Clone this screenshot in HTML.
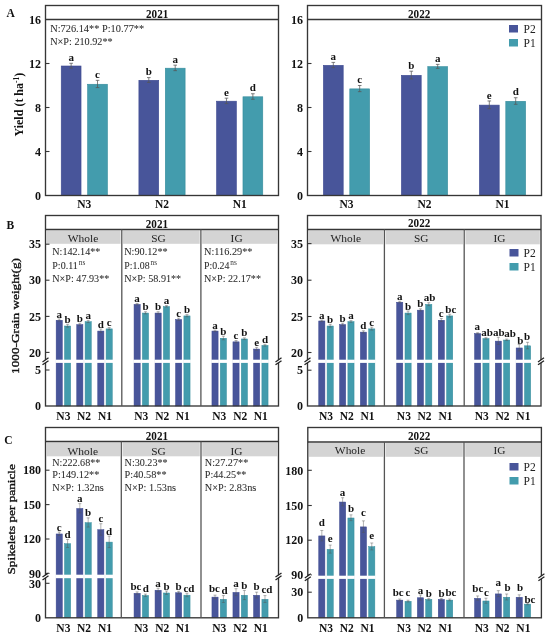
<!DOCTYPE html>
<html><head><meta charset="utf-8"><style>
html,body{margin:0;padding:0;background:#fff;}
body{width:550px;height:636px;position:relative;overflow:hidden;font-family:"Liberation Serif", serif;}
</style></head><body><div style="will-change:transform;position:absolute;left:0;top:0;width:550px;height:636px;background:#fff">
<svg width="550" height="636" viewBox="0 0 550 636" style="position:absolute;left:0;top:0;font-family:'Liberation Serif', serif">
<rect x="0.00" y="0.00" width="550.00" height="636.00" fill="#fff"/>
<text x="6.50" y="16.50" font-size="11.5" font-weight="bold" text-anchor="start" fill="#111">A</text>
<rect x="61.23" y="66.00" width="19.80" height="129.50" fill="#48559a" stroke="#3c4890" stroke-width="0.6"/>
<path d="M71.13 63.28V68.12M69.33 63.28H72.93M69.33 68.12H72.93" stroke="#555" stroke-width="0.75" fill="none"/>
<text x="71.13" y="60.88" font-size="11.0" font-weight="bold" text-anchor="middle" fill="#111">a</text>
<rect x="87.63" y="84.26" width="19.80" height="111.24" fill="#439cad" stroke="#358c9c" stroke-width="0.6"/>
<path d="M97.53 80.33V87.59M95.73 80.33H99.33M95.73 87.59H99.33" stroke="#555" stroke-width="0.75" fill="none"/>
<text x="97.53" y="77.93" font-size="11.0" font-weight="bold" text-anchor="middle" fill="#111">c</text>
<text x="84.33" y="208.00" font-size="11.5" font-weight="bold" text-anchor="middle" fill="#111">N3</text>
<rect x="138.90" y="80.30" width="19.80" height="115.20" fill="#48559a" stroke="#3c4890" stroke-width="0.6"/>
<path d="M148.80 77.58V82.42M147.00 77.58H150.60M147.00 82.42H150.60" stroke="#555" stroke-width="0.75" fill="none"/>
<text x="148.80" y="75.18" font-size="11.0" font-weight="bold" text-anchor="middle" fill="#111">b</text>
<rect x="165.30" y="68.20" width="19.80" height="127.30" fill="#439cad" stroke="#358c9c" stroke-width="0.6"/>
<path d="M175.20 65.15V70.65M173.40 65.15H177.00M173.40 70.65H177.00" stroke="#555" stroke-width="0.75" fill="none"/>
<text x="175.20" y="62.75" font-size="11.0" font-weight="bold" text-anchor="middle" fill="#111">a</text>
<text x="162.00" y="208.00" font-size="11.5" font-weight="bold" text-anchor="middle" fill="#111">N2</text>
<rect x="216.57" y="101.20" width="19.80" height="94.30" fill="#48559a" stroke="#3c4890" stroke-width="0.6"/>
<path d="M226.47 98.15V103.65M224.67 98.15H228.27M224.67 103.65H228.27" stroke="#555" stroke-width="0.75" fill="none"/>
<text x="226.47" y="95.75" font-size="11.0" font-weight="bold" text-anchor="middle" fill="#111">e</text>
<rect x="242.97" y="96.80" width="19.80" height="98.70" fill="#439cad" stroke="#358c9c" stroke-width="0.6"/>
<path d="M252.87 93.75V99.25M251.07 93.75H254.67M251.07 99.25H254.67" stroke="#555" stroke-width="0.75" fill="none"/>
<text x="252.87" y="91.35" font-size="11.0" font-weight="bold" text-anchor="middle" fill="#111">d</text>
<text x="239.67" y="208.00" font-size="11.5" font-weight="bold" text-anchor="middle" fill="#111">N1</text>
<rect x="45.5" y="5.5" width="233.0" height="190.0" fill="none" stroke="#363636" stroke-width="1.35"/>
<line x1="45.50" y1="19.50" x2="278.50" y2="19.50" stroke="#363636" stroke-width="1.35"/>
<text x="146.00" y="18.10" font-size="11.8" font-weight="bold" text-anchor="start" fill="#111" textLength="22.3" lengthAdjust="spacingAndGlyphs">2021</text>
<text x="41.00" y="199.70" font-size="12" font-weight="bold" text-anchor="end" fill="#111">0</text>
<line x1="45.50" y1="151.50" x2="49.50" y2="151.50" stroke="#363636" stroke-width="1.1"/>
<text x="41.00" y="155.70" font-size="12" font-weight="bold" text-anchor="end" fill="#111">4</text>
<line x1="45.50" y1="107.50" x2="49.50" y2="107.50" stroke="#363636" stroke-width="1.1"/>
<text x="41.00" y="111.70" font-size="12" font-weight="bold" text-anchor="end" fill="#111">8</text>
<line x1="45.50" y1="63.50" x2="49.50" y2="63.50" stroke="#363636" stroke-width="1.1"/>
<text x="41.00" y="67.70" font-size="12" font-weight="bold" text-anchor="end" fill="#111">12</text>
<text x="41.00" y="23.70" font-size="12" font-weight="bold" text-anchor="end" fill="#111">16</text>
<rect x="323.40" y="65.34" width="19.80" height="130.16" fill="#48559a" stroke="#3c4890" stroke-width="0.6"/>
<path d="M333.30 62.40V67.68M331.50 62.40H335.10M331.50 67.68H335.10" stroke="#555" stroke-width="0.75" fill="none"/>
<text x="333.30" y="60.00" font-size="11.0" font-weight="bold" text-anchor="middle" fill="#111">a</text>
<rect x="349.80" y="88.88" width="19.80" height="106.62" fill="#439cad" stroke="#358c9c" stroke-width="0.6"/>
<path d="M359.70 85.50V91.66M357.90 85.50H361.50M357.90 91.66H361.50" stroke="#555" stroke-width="0.75" fill="none"/>
<text x="359.70" y="83.10" font-size="11.0" font-weight="bold" text-anchor="middle" fill="#111">c</text>
<text x="346.50" y="208.00" font-size="11.5" font-weight="bold" text-anchor="middle" fill="#111">N3</text>
<rect x="401.40" y="75.35" width="19.80" height="120.15" fill="#48559a" stroke="#3c4890" stroke-width="0.6"/>
<path d="M411.30 71.20V78.90M409.50 71.20H413.10M409.50 78.90H413.10" stroke="#555" stroke-width="0.75" fill="none"/>
<text x="411.30" y="68.80" font-size="11.0" font-weight="bold" text-anchor="middle" fill="#111">b</text>
<rect x="427.80" y="66.66" width="19.80" height="128.84" fill="#439cad" stroke="#358c9c" stroke-width="0.6"/>
<path d="M437.70 64.38V68.34M435.90 64.38H439.50M435.90 68.34H439.50" stroke="#555" stroke-width="0.75" fill="none"/>
<text x="437.70" y="61.98" font-size="11.0" font-weight="bold" text-anchor="middle" fill="#111">a</text>
<text x="424.50" y="208.00" font-size="11.5" font-weight="bold" text-anchor="middle" fill="#111">N2</text>
<rect x="479.40" y="105.11" width="19.80" height="90.39" fill="#48559a" stroke="#3c4890" stroke-width="0.6"/>
<path d="M489.30 100.96V108.66M487.50 100.96H491.10M487.50 108.66H491.10" stroke="#555" stroke-width="0.75" fill="none"/>
<text x="489.30" y="98.56" font-size="11.0" font-weight="bold" text-anchor="middle" fill="#111">e</text>
<rect x="505.80" y="101.31" width="19.80" height="94.19" fill="#439cad" stroke="#358c9c" stroke-width="0.6"/>
<path d="M515.70 97.71V104.31M513.90 97.71H517.50M513.90 104.31H517.50" stroke="#555" stroke-width="0.75" fill="none"/>
<text x="515.70" y="95.31" font-size="11.0" font-weight="bold" text-anchor="middle" fill="#111">d</text>
<text x="502.50" y="208.00" font-size="11.5" font-weight="bold" text-anchor="middle" fill="#111">N1</text>
<rect x="307.5" y="5.5" width="234.0" height="190.0" fill="none" stroke="#363636" stroke-width="1.35"/>
<line x1="307.50" y1="19.50" x2="541.50" y2="19.50" stroke="#363636" stroke-width="1.35"/>
<text x="408.00" y="18.10" font-size="11.8" font-weight="bold" text-anchor="start" fill="#111" textLength="22.3" lengthAdjust="spacingAndGlyphs">2022</text>
<text x="303.00" y="199.70" font-size="12" font-weight="bold" text-anchor="end" fill="#111">0</text>
<line x1="307.50" y1="151.50" x2="311.50" y2="151.50" stroke="#363636" stroke-width="1.1"/>
<text x="303.00" y="155.70" font-size="12" font-weight="bold" text-anchor="end" fill="#111">4</text>
<line x1="307.50" y1="107.50" x2="311.50" y2="107.50" stroke="#363636" stroke-width="1.1"/>
<text x="303.00" y="111.70" font-size="12" font-weight="bold" text-anchor="end" fill="#111">8</text>
<line x1="307.50" y1="63.50" x2="311.50" y2="63.50" stroke="#363636" stroke-width="1.1"/>
<text x="303.00" y="67.70" font-size="12" font-weight="bold" text-anchor="end" fill="#111">12</text>
<text x="303.00" y="23.70" font-size="12" font-weight="bold" text-anchor="end" fill="#111">16</text>
<rect x="509.00" y="25.00" width="9.00" height="7.50" fill="#48559a"/>
<text x="523.50" y="33.00" font-size="11.5" font-weight="normal" text-anchor="start" fill="#222">P2</text>
<rect x="509.00" y="39.00" width="9.00" height="7.50" fill="#439cad"/>
<text x="523.50" y="47.00" font-size="11.5" font-weight="normal" text-anchor="start" fill="#222">P1</text>
<text x="50.20" y="32.20" font-size="11.3" font-weight="normal" text-anchor="start" fill="#2a2a2a" textLength="94" lengthAdjust="spacingAndGlyphs" stroke="#2a2a2a" stroke-width="0.06">N:726.14** P:10.77**</text>
<text x="50.20" y="45.20" font-size="11.3" font-weight="normal" text-anchor="start" fill="#2a2a2a" textLength="62.5" lengthAdjust="spacingAndGlyphs" stroke="#2a2a2a" stroke-width="0.06">N×P: 210.92**</text>
<text transform="translate(22.8,104.6) rotate(-90)" font-size="12" font-weight="bold" text-anchor="middle" fill="#111">Yield (t ha<tspan dy="-4" font-size="7.5">-1</tspan><tspan dy="4">)</tspan></text>
<text x="6.50" y="228.50" font-size="11.5" font-weight="bold" text-anchor="start" fill="#111">B</text>
<rect x="46.70" y="230.40" width="73.90" height="13.40" fill="#d4d4d4"/>
<rect x="123.00" y="230.40" width="76.70" height="13.40" fill="#d4d4d4"/>
<rect x="202.10" y="230.40" width="75.20" height="13.40" fill="#d4d4d4"/>
<text x="83.00" y="242.00" font-size="11.2" font-weight="normal" text-anchor="middle" fill="#222" textLength="30.5" lengthAdjust="spacingAndGlyphs">Whole</text>
<text x="158.40" y="242.00" font-size="11.2" font-weight="normal" text-anchor="middle" fill="#222" textLength="14.5" lengthAdjust="spacingAndGlyphs">SG</text>
<text x="236.60" y="242.00" font-size="11.2" font-weight="normal" text-anchor="middle" fill="#222" textLength="12" lengthAdjust="spacingAndGlyphs">IG</text>
<rect x="56.15" y="320.25" width="6.15" height="85.75" fill="#48559a" stroke="#3c4890" stroke-width="0.5"/>
<rect x="55.40" y="359.70" width="7.65" height="3.20" fill="#fff"/>
<g opacity="0.75">
<path d="M59.23 318.92V321.08M57.73 318.92H60.73M57.73 321.08H60.73" stroke="#555" stroke-width="0.6" fill="none"/>
</g>
<text x="59.23" y="317.52" font-size="11.0" font-weight="bold" text-anchor="middle" fill="#111">a</text>
<rect x="64.50" y="326.01" width="6.15" height="79.99" fill="#439cad" stroke="#358c9c" stroke-width="0.5"/>
<rect x="63.75" y="359.70" width="7.65" height="3.20" fill="#fff"/>
<g opacity="0.75">
<path d="M67.58 324.32V327.20M66.08 324.32H69.08M66.08 327.20H69.08" stroke="#555" stroke-width="0.6" fill="none"/>
</g>
<text x="67.58" y="322.92" font-size="11.0" font-weight="bold" text-anchor="middle" fill="#111">b</text>
<text x="63.40" y="419.80" font-size="11.5" font-weight="bold" text-anchor="middle" fill="#111">N3</text>
<rect x="76.75" y="324.57" width="6.15" height="81.43" fill="#48559a" stroke="#3c4890" stroke-width="0.5"/>
<rect x="76.00" y="359.70" width="7.65" height="3.20" fill="#fff"/>
<g opacity="0.75">
<path d="M79.83 323.24V325.40M78.33 323.24H81.33M78.33 325.40H81.33" stroke="#555" stroke-width="0.6" fill="none"/>
</g>
<text x="79.83" y="321.84" font-size="11.0" font-weight="bold" text-anchor="middle" fill="#111">b</text>
<rect x="85.10" y="321.69" width="6.15" height="84.31" fill="#439cad" stroke="#358c9c" stroke-width="0.5"/>
<rect x="84.35" y="359.70" width="7.65" height="3.20" fill="#fff"/>
<g opacity="0.75">
<path d="M88.17 320.36V322.52M86.67 320.36H89.67M86.67 322.52H89.67" stroke="#555" stroke-width="0.6" fill="none"/>
</g>
<text x="88.17" y="318.96" font-size="11.0" font-weight="bold" text-anchor="middle" fill="#111">a</text>
<text x="84.00" y="419.80" font-size="11.5" font-weight="bold" text-anchor="middle" fill="#111">N2</text>
<rect x="97.75" y="331.05" width="6.15" height="74.95" fill="#48559a" stroke="#3c4890" stroke-width="0.5"/>
<rect x="97.00" y="359.70" width="7.65" height="3.20" fill="#fff"/>
<g opacity="0.75">
<path d="M100.83 329.00V332.60M99.33 329.00H102.33M99.33 332.60H102.33" stroke="#555" stroke-width="0.6" fill="none"/>
</g>
<text x="100.83" y="327.60" font-size="11.0" font-weight="bold" text-anchor="middle" fill="#111">d</text>
<rect x="106.10" y="328.89" width="6.15" height="77.11" fill="#439cad" stroke="#358c9c" stroke-width="0.5"/>
<rect x="105.35" y="359.70" width="7.65" height="3.20" fill="#fff"/>
<g opacity="0.75">
<path d="M109.17 327.56V329.72M107.67 327.56H110.67M107.67 329.72H110.67" stroke="#555" stroke-width="0.6" fill="none"/>
</g>
<text x="109.17" y="326.16" font-size="11.0" font-weight="bold" text-anchor="middle" fill="#111">c</text>
<text x="105.00" y="419.80" font-size="11.5" font-weight="bold" text-anchor="middle" fill="#111">N1</text>
<rect x="134.05" y="304.41" width="6.15" height="101.59" fill="#48559a" stroke="#3c4890" stroke-width="0.5"/>
<rect x="133.30" y="359.70" width="7.65" height="3.20" fill="#fff"/>
<g opacity="0.75">
<path d="M137.12 303.44V304.88M135.62 303.44H138.62M135.62 304.88H138.62" stroke="#555" stroke-width="0.6" fill="none"/>
</g>
<text x="137.12" y="302.04" font-size="11.0" font-weight="bold" text-anchor="middle" fill="#111">a</text>
<rect x="142.40" y="313.05" width="6.15" height="92.95" fill="#439cad" stroke="#358c9c" stroke-width="0.5"/>
<rect x="141.65" y="359.70" width="7.65" height="3.20" fill="#fff"/>
<g opacity="0.75">
<path d="M145.48 311.72V313.88M143.98 311.72H146.98M143.98 313.88H146.98" stroke="#555" stroke-width="0.6" fill="none"/>
</g>
<text x="145.48" y="310.32" font-size="11.0" font-weight="bold" text-anchor="middle" fill="#111">b</text>
<text x="141.30" y="419.80" font-size="11.5" font-weight="bold" text-anchor="middle" fill="#111">N3</text>
<rect x="155.05" y="313.05" width="6.15" height="92.95" fill="#48559a" stroke="#3c4890" stroke-width="0.5"/>
<rect x="154.30" y="359.70" width="7.65" height="3.20" fill="#fff"/>
<g opacity="0.75">
<path d="M158.12 311.72V313.88M156.62 311.72H159.62M156.62 313.88H159.62" stroke="#555" stroke-width="0.6" fill="none"/>
</g>
<text x="158.12" y="310.32" font-size="11.0" font-weight="bold" text-anchor="middle" fill="#111">b</text>
<rect x="163.40" y="306.57" width="6.15" height="99.43" fill="#439cad" stroke="#358c9c" stroke-width="0.5"/>
<rect x="162.65" y="359.70" width="7.65" height="3.20" fill="#fff"/>
<g opacity="0.75">
<path d="M166.48 305.60V307.04M164.98 305.60H167.98M164.98 307.04H167.98" stroke="#555" stroke-width="0.6" fill="none"/>
</g>
<text x="166.48" y="304.20" font-size="11.0" font-weight="bold" text-anchor="middle" fill="#111">a</text>
<text x="162.30" y="419.80" font-size="11.5" font-weight="bold" text-anchor="middle" fill="#111">N2</text>
<rect x="175.55" y="319.53" width="6.15" height="86.47" fill="#48559a" stroke="#3c4890" stroke-width="0.5"/>
<rect x="174.80" y="359.70" width="7.65" height="3.20" fill="#fff"/>
<g opacity="0.75">
<path d="M178.62 318.20V320.36M177.12 318.20H180.12M177.12 320.36H180.12" stroke="#555" stroke-width="0.6" fill="none"/>
</g>
<text x="178.62" y="316.80" font-size="11.0" font-weight="bold" text-anchor="middle" fill="#111">c</text>
<rect x="183.90" y="315.93" width="6.15" height="90.07" fill="#439cad" stroke="#358c9c" stroke-width="0.5"/>
<rect x="183.15" y="359.70" width="7.65" height="3.20" fill="#fff"/>
<g opacity="0.75">
<path d="M186.98 314.60V316.76M185.48 314.60H188.48M185.48 316.76H188.48" stroke="#555" stroke-width="0.6" fill="none"/>
</g>
<text x="186.98" y="313.20" font-size="11.0" font-weight="bold" text-anchor="middle" fill="#111">b</text>
<text x="182.80" y="419.80" font-size="11.5" font-weight="bold" text-anchor="middle" fill="#111">N1</text>
<rect x="211.95" y="331.05" width="6.15" height="74.95" fill="#48559a" stroke="#3c4890" stroke-width="0.5"/>
<rect x="211.20" y="359.70" width="7.65" height="3.20" fill="#fff"/>
<g opacity="0.75">
<path d="M215.02 330.08V331.52M213.52 330.08H216.52M213.52 331.52H216.52" stroke="#555" stroke-width="0.6" fill="none"/>
</g>
<text x="215.02" y="328.68" font-size="11.0" font-weight="bold" text-anchor="middle" fill="#111">a</text>
<rect x="220.30" y="338.25" width="6.15" height="67.75" fill="#439cad" stroke="#358c9c" stroke-width="0.5"/>
<rect x="219.55" y="359.70" width="7.65" height="3.20" fill="#fff"/>
<g opacity="0.75">
<path d="M223.38 336.20V339.80M221.88 336.20H224.88M221.88 339.80H224.88" stroke="#555" stroke-width="0.6" fill="none"/>
</g>
<text x="223.38" y="334.80" font-size="11.0" font-weight="bold" text-anchor="middle" fill="#111">b</text>
<text x="219.20" y="419.80" font-size="11.5" font-weight="bold" text-anchor="middle" fill="#111">N3</text>
<rect x="232.95" y="341.85" width="6.15" height="64.15" fill="#48559a" stroke="#3c4890" stroke-width="0.5"/>
<rect x="232.20" y="359.70" width="7.65" height="3.20" fill="#fff"/>
<g opacity="0.75">
<path d="M236.02 340.52V342.68M234.52 340.52H237.52M234.52 342.68H237.52" stroke="#555" stroke-width="0.6" fill="none"/>
</g>
<text x="236.02" y="339.12" font-size="11.0" font-weight="bold" text-anchor="middle" fill="#111">c</text>
<rect x="241.30" y="338.97" width="6.15" height="67.03" fill="#439cad" stroke="#358c9c" stroke-width="0.5"/>
<rect x="240.55" y="359.70" width="7.65" height="3.20" fill="#fff"/>
<g opacity="0.75">
<path d="M244.38 337.86V339.58M242.88 337.86H245.88M242.88 339.58H245.88" stroke="#555" stroke-width="0.6" fill="none"/>
</g>
<text x="244.38" y="336.46" font-size="11.0" font-weight="bold" text-anchor="middle" fill="#111">b</text>
<text x="240.20" y="419.80" font-size="11.5" font-weight="bold" text-anchor="middle" fill="#111">N2</text>
<rect x="253.55" y="349.05" width="6.15" height="56.95" fill="#48559a" stroke="#3c4890" stroke-width="0.5"/>
<rect x="252.80" y="359.70" width="7.65" height="3.20" fill="#fff"/>
<g opacity="0.75">
<path d="M256.62 347.36V350.24M255.12 347.36H258.12M255.12 350.24H258.12" stroke="#555" stroke-width="0.6" fill="none"/>
</g>
<text x="256.62" y="345.96" font-size="11.0" font-weight="bold" text-anchor="middle" fill="#111">e</text>
<rect x="261.90" y="345.45" width="6.15" height="60.55" fill="#439cad" stroke="#358c9c" stroke-width="0.5"/>
<rect x="261.15" y="359.70" width="7.65" height="3.20" fill="#fff"/>
<g opacity="0.75">
<path d="M264.98 344.34V346.06M263.48 344.34H266.48M263.48 346.06H266.48" stroke="#555" stroke-width="0.6" fill="none"/>
</g>
<text x="264.98" y="342.94" font-size="11.0" font-weight="bold" text-anchor="middle" fill="#111">d</text>
<text x="260.80" y="419.80" font-size="11.5" font-weight="bold" text-anchor="middle" fill="#111">N1</text>
<rect x="45.5" y="215.5" width="233.0" height="190.5" fill="none" stroke="#363636" stroke-width="1.35"/>
<line x1="45.50" y1="229.50" x2="278.50" y2="229.50" stroke="#363636" stroke-width="1.35"/>
<line x1="121.80" y1="229.50" x2="121.80" y2="406.00" stroke="#555" stroke-width="1.3"/>
<line x1="200.90" y1="229.50" x2="200.90" y2="406.00" stroke="#555" stroke-width="1.3"/>
<text x="145.80" y="227.70" font-size="11.8" font-weight="bold" text-anchor="start" fill="#111" textLength="22.3" lengthAdjust="spacingAndGlyphs">2021</text>
<line x1="45.50" y1="244.20" x2="49.50" y2="244.20" stroke="#363636" stroke-width="1.1"/>
<text x="41.00" y="248.40" font-size="12" font-weight="bold" text-anchor="end" fill="#111">35</text>
<line x1="45.50" y1="280.20" x2="49.50" y2="280.20" stroke="#363636" stroke-width="1.1"/>
<text x="41.00" y="284.40" font-size="12" font-weight="bold" text-anchor="end" fill="#111">30</text>
<line x1="45.50" y1="316.40" x2="49.50" y2="316.40" stroke="#363636" stroke-width="1.1"/>
<text x="41.00" y="320.60" font-size="12" font-weight="bold" text-anchor="end" fill="#111">25</text>
<line x1="45.50" y1="352.40" x2="49.50" y2="352.40" stroke="#363636" stroke-width="1.1"/>
<text x="41.00" y="356.60" font-size="12" font-weight="bold" text-anchor="end" fill="#111">20</text>
<line x1="45.50" y1="370.00" x2="49.50" y2="370.00" stroke="#363636" stroke-width="1.1"/>
<text x="41.00" y="374.20" font-size="12" font-weight="bold" text-anchor="end" fill="#111">5</text>
<text x="41.00" y="410.20" font-size="12" font-weight="bold" text-anchor="end" fill="#111">0</text>
<polygon points="42.50,364.85 48.50,360.65 48.50,357.75 42.50,361.95" fill="#fff"/>
<line x1="42.50" y1="364.85" x2="48.50" y2="360.65" stroke="#222" stroke-width="1.25"/>
<line x1="42.50" y1="361.95" x2="48.50" y2="357.75" stroke="#222" stroke-width="1.25"/>
<polygon points="275.50,364.85 281.50,360.65 281.50,357.75 275.50,361.95" fill="#fff"/>
<line x1="275.50" y1="364.85" x2="281.50" y2="360.65" stroke="#222" stroke-width="1.25"/>
<line x1="275.50" y1="361.95" x2="281.50" y2="357.75" stroke="#222" stroke-width="1.25"/>
<text x="52.30" y="255.20" font-size="11" font-weight="normal" text-anchor="start" fill="#2a2a2a" textLength="48" lengthAdjust="spacingAndGlyphs" stroke="#2a2a2a" stroke-width="0.06">N:142.14**</text>
<text x="52.30" y="269.20" font-size="11" font-weight="normal" text-anchor="start" fill="#2a2a2a" textLength="25.5" lengthAdjust="spacingAndGlyphs" stroke="#2a2a2a" stroke-width="0.06">P:0.11</text>
<text x="78.80" y="264.90" font-size="7.3" font-weight="normal" text-anchor="start" fill="#333">ns</text>
<text x="52.30" y="282.00" font-size="11" font-weight="normal" text-anchor="start" fill="#2a2a2a" textLength="57" lengthAdjust="spacingAndGlyphs" stroke="#2a2a2a" stroke-width="0.06">N×P: 47.93**</text>
<text x="124.20" y="255.20" font-size="11" font-weight="normal" text-anchor="start" fill="#2a2a2a" textLength="43.5" lengthAdjust="spacingAndGlyphs" stroke="#2a2a2a" stroke-width="0.06">N:90.12**</text>
<text x="124.20" y="269.20" font-size="11" font-weight="normal" text-anchor="start" fill="#2a2a2a" textLength="25.5" lengthAdjust="spacingAndGlyphs" stroke="#2a2a2a" stroke-width="0.06">P:1.08</text>
<text x="150.50" y="264.90" font-size="7.3" font-weight="normal" text-anchor="start" fill="#333">ns</text>
<text x="124.20" y="282.00" font-size="11" font-weight="normal" text-anchor="start" fill="#2a2a2a" textLength="57" lengthAdjust="spacingAndGlyphs" stroke="#2a2a2a" stroke-width="0.06">N×P: 58.91**</text>
<text x="204.00" y="255.20" font-size="11" font-weight="normal" text-anchor="start" fill="#2a2a2a" textLength="48.5" lengthAdjust="spacingAndGlyphs" stroke="#2a2a2a" stroke-width="0.06">N:116.29**</text>
<text x="204.00" y="269.20" font-size="11" font-weight="normal" text-anchor="start" fill="#2a2a2a" textLength="25.5" lengthAdjust="spacingAndGlyphs" stroke="#2a2a2a" stroke-width="0.06">P:0.24</text>
<text x="230.30" y="264.90" font-size="7.3" font-weight="normal" text-anchor="start" fill="#333">ns</text>
<text x="204.00" y="282.00" font-size="11" font-weight="normal" text-anchor="start" fill="#2a2a2a" textLength="57" lengthAdjust="spacingAndGlyphs" stroke="#2a2a2a" stroke-width="0.06">N×P: 22.17**</text>
<rect x="308.70" y="230.40" width="74.50" height="13.90" fill="#d4d4d4"/>
<rect x="385.60" y="230.40" width="77.40" height="13.90" fill="#d4d4d4"/>
<rect x="465.40" y="230.40" width="74.40" height="13.90" fill="#d4d4d4"/>
<text x="345.80" y="242.20" font-size="11.2" font-weight="normal" text-anchor="middle" fill="#222" textLength="30.5" lengthAdjust="spacingAndGlyphs">Whole</text>
<text x="421.20" y="242.20" font-size="11.2" font-weight="normal" text-anchor="middle" fill="#222" textLength="14.5" lengthAdjust="spacingAndGlyphs">SG</text>
<text x="499.50" y="242.20" font-size="11.2" font-weight="normal" text-anchor="middle" fill="#222" textLength="12" lengthAdjust="spacingAndGlyphs">IG</text>
<rect x="318.75" y="320.97" width="6.15" height="85.03" fill="#48559a" stroke="#3c4890" stroke-width="0.5"/>
<rect x="318.00" y="359.70" width="7.65" height="3.20" fill="#fff"/>
<g opacity="0.75">
<path d="M321.82 320.00V321.44M320.32 320.00H323.32M320.32 321.44H323.32" stroke="#555" stroke-width="0.6" fill="none"/>
</g>
<text x="321.82" y="318.60" font-size="11.0" font-weight="bold" text-anchor="middle" fill="#111">a</text>
<rect x="327.10" y="326.01" width="6.15" height="79.99" fill="#439cad" stroke="#358c9c" stroke-width="0.5"/>
<rect x="326.35" y="359.70" width="7.65" height="3.20" fill="#fff"/>
<g opacity="0.75">
<path d="M330.18 324.32V327.20M328.68 324.32H331.68M328.68 327.20H331.68" stroke="#555" stroke-width="0.6" fill="none"/>
</g>
<text x="330.18" y="322.92" font-size="11.0" font-weight="bold" text-anchor="middle" fill="#111">b</text>
<text x="326.00" y="419.80" font-size="11.5" font-weight="bold" text-anchor="middle" fill="#111">N3</text>
<rect x="339.55" y="324.57" width="6.15" height="81.43" fill="#48559a" stroke="#3c4890" stroke-width="0.5"/>
<rect x="338.80" y="359.70" width="7.65" height="3.20" fill="#fff"/>
<g opacity="0.75">
<path d="M342.62 323.24V325.40M341.12 323.24H344.12M341.12 325.40H344.12" stroke="#555" stroke-width="0.6" fill="none"/>
</g>
<text x="342.62" y="321.84" font-size="11.0" font-weight="bold" text-anchor="middle" fill="#111">b</text>
<rect x="347.90" y="321.69" width="6.15" height="84.31" fill="#439cad" stroke="#358c9c" stroke-width="0.5"/>
<rect x="347.15" y="359.70" width="7.65" height="3.20" fill="#fff"/>
<g opacity="0.75">
<path d="M350.98 320.58V322.30M349.48 320.58H352.48M349.48 322.30H352.48" stroke="#555" stroke-width="0.6" fill="none"/>
</g>
<text x="350.98" y="319.18" font-size="11.0" font-weight="bold" text-anchor="middle" fill="#111">a</text>
<text x="346.80" y="419.80" font-size="11.5" font-weight="bold" text-anchor="middle" fill="#111">N2</text>
<rect x="360.35" y="332.13" width="6.15" height="73.87" fill="#48559a" stroke="#3c4890" stroke-width="0.5"/>
<rect x="359.60" y="359.70" width="7.65" height="3.20" fill="#fff"/>
<g opacity="0.75">
<path d="M363.43 330.80V332.96M361.93 330.80H364.93M361.93 332.96H364.93" stroke="#555" stroke-width="0.6" fill="none"/>
</g>
<text x="363.43" y="329.40" font-size="11.0" font-weight="bold" text-anchor="middle" fill="#111">d</text>
<rect x="368.70" y="328.89" width="6.15" height="77.11" fill="#439cad" stroke="#358c9c" stroke-width="0.5"/>
<rect x="367.95" y="359.70" width="7.65" height="3.20" fill="#fff"/>
<g opacity="0.75">
<path d="M371.78 327.20V330.08M370.28 327.20H373.28M370.28 330.08H373.28" stroke="#555" stroke-width="0.6" fill="none"/>
</g>
<text x="371.78" y="325.80" font-size="11.0" font-weight="bold" text-anchor="middle" fill="#111">c</text>
<text x="367.60" y="419.80" font-size="11.5" font-weight="bold" text-anchor="middle" fill="#111">N1</text>
<rect x="396.65" y="302.25" width="6.15" height="103.75" fill="#48559a" stroke="#3c4890" stroke-width="0.5"/>
<rect x="395.90" y="359.70" width="7.65" height="3.20" fill="#fff"/>
<g opacity="0.75">
<path d="M399.72 301.28V302.72M398.22 301.28H401.22M398.22 302.72H401.22" stroke="#555" stroke-width="0.6" fill="none"/>
</g>
<text x="399.72" y="299.88" font-size="11.0" font-weight="bold" text-anchor="middle" fill="#111">a</text>
<rect x="405.00" y="313.05" width="6.15" height="92.95" fill="#439cad" stroke="#358c9c" stroke-width="0.5"/>
<rect x="404.25" y="359.70" width="7.65" height="3.20" fill="#fff"/>
<g opacity="0.75">
<path d="M408.07 311.00V314.60M406.57 311.00H409.57M406.57 314.60H409.57" stroke="#555" stroke-width="0.6" fill="none"/>
</g>
<text x="408.07" y="309.60" font-size="11.0" font-weight="bold" text-anchor="middle" fill="#111">b</text>
<text x="403.90" y="419.80" font-size="11.5" font-weight="bold" text-anchor="middle" fill="#111">N3</text>
<rect x="417.35" y="310.17" width="6.15" height="95.83" fill="#48559a" stroke="#3c4890" stroke-width="0.5"/>
<rect x="416.60" y="359.70" width="7.65" height="3.20" fill="#fff"/>
<g opacity="0.75">
<path d="M420.43 308.84V311.00M418.93 308.84H421.93M418.93 311.00H421.93" stroke="#555" stroke-width="0.6" fill="none"/>
</g>
<text x="420.43" y="307.44" font-size="11.0" font-weight="bold" text-anchor="middle" fill="#111">b</text>
<rect x="425.70" y="304.41" width="6.15" height="101.59" fill="#439cad" stroke="#358c9c" stroke-width="0.5"/>
<rect x="424.95" y="359.70" width="7.65" height="3.20" fill="#fff"/>
<g opacity="0.75">
<path d="M428.78 302.72V305.60M427.28 302.72H430.28M427.28 305.60H430.28" stroke="#555" stroke-width="0.6" fill="none"/>
</g>
<text x="429.48" y="301.32" font-size="11.0" font-weight="bold" text-anchor="middle" fill="#111">ab</text>
<text x="424.60" y="419.80" font-size="11.5" font-weight="bold" text-anchor="middle" fill="#111">N2</text>
<rect x="438.25" y="320.25" width="6.15" height="85.75" fill="#48559a" stroke="#3c4890" stroke-width="0.5"/>
<rect x="437.50" y="359.70" width="7.65" height="3.20" fill="#fff"/>
<g opacity="0.75">
<path d="M441.32 318.56V321.44M439.82 318.56H442.82M439.82 321.44H442.82" stroke="#555" stroke-width="0.6" fill="none"/>
</g>
<text x="441.32" y="317.16" font-size="11.0" font-weight="bold" text-anchor="middle" fill="#111">c</text>
<rect x="446.60" y="315.93" width="6.15" height="90.07" fill="#439cad" stroke="#358c9c" stroke-width="0.5"/>
<rect x="445.85" y="359.70" width="7.65" height="3.20" fill="#fff"/>
<g opacity="0.75">
<path d="M449.68 314.24V317.12M448.18 314.24H451.18M448.18 317.12H451.18" stroke="#555" stroke-width="0.6" fill="none"/>
</g>
<text x="450.78" y="312.84" font-size="11.0" font-weight="bold" text-anchor="middle" fill="#111">bc</text>
<text x="445.50" y="419.80" font-size="11.5" font-weight="bold" text-anchor="middle" fill="#111">N1</text>
<rect x="474.55" y="333.57" width="6.15" height="72.43" fill="#48559a" stroke="#3c4890" stroke-width="0.5"/>
<rect x="473.80" y="359.70" width="7.65" height="3.20" fill="#fff"/>
<g opacity="0.75">
<path d="M477.62 332.74V333.90M476.12 332.74H479.12M476.12 333.90H479.12" stroke="#555" stroke-width="0.6" fill="none"/>
</g>
<text x="477.23" y="329.50" font-size="11.0" font-weight="bold" text-anchor="middle" fill="#111">a</text>
<rect x="482.90" y="338.61" width="6.15" height="67.39" fill="#439cad" stroke="#358c9c" stroke-width="0.5"/>
<rect x="482.15" y="359.70" width="7.65" height="3.20" fill="#fff"/>
<g opacity="0.75">
<path d="M485.98 337.64V339.08M484.48 337.64H487.48M484.48 339.08H487.48" stroke="#555" stroke-width="0.6" fill="none"/>
</g>
<text x="487.18" y="336.30" font-size="11.0" font-weight="bold" text-anchor="middle" fill="#111">ab</text>
<text x="481.80" y="419.80" font-size="11.5" font-weight="bold" text-anchor="middle" fill="#111">N3</text>
<rect x="495.25" y="341.13" width="6.15" height="64.87" fill="#48559a" stroke="#3c4890" stroke-width="0.5"/>
<rect x="494.50" y="359.70" width="7.65" height="3.20" fill="#fff"/>
<g opacity="0.75">
<path d="M498.32 337.28V344.48M496.82 337.28H499.82M496.82 344.48H499.82" stroke="#555" stroke-width="0.6" fill="none"/>
</g>
<text x="498.82" y="336.30" font-size="11.0" font-weight="bold" text-anchor="middle" fill="#111">ab</text>
<rect x="503.60" y="340.05" width="6.15" height="65.95" fill="#439cad" stroke="#358c9c" stroke-width="0.5"/>
<rect x="502.85" y="359.70" width="7.65" height="3.20" fill="#fff"/>
<g opacity="0.75">
<path d="M506.68 339.08V340.52M505.18 339.08H508.18M505.18 340.52H508.18" stroke="#555" stroke-width="0.6" fill="none"/>
</g>
<text x="510.07" y="337.20" font-size="11.0" font-weight="bold" text-anchor="middle" fill="#111">ab</text>
<text x="502.50" y="419.80" font-size="11.5" font-weight="bold" text-anchor="middle" fill="#111">N2</text>
<rect x="516.15" y="347.97" width="6.15" height="58.03" fill="#48559a" stroke="#3c4890" stroke-width="0.5"/>
<rect x="515.40" y="359.70" width="7.65" height="3.20" fill="#fff"/>
<g opacity="0.75">
<path d="M519.23 344.48V350.96M517.73 344.48H520.73M517.73 350.96H520.73" stroke="#555" stroke-width="0.6" fill="none"/>
</g>
<text x="520.33" y="344.00" font-size="11.0" font-weight="bold" text-anchor="middle" fill="#111">b</text>
<rect x="524.50" y="345.81" width="6.15" height="60.19" fill="#439cad" stroke="#358c9c" stroke-width="0.5"/>
<rect x="523.75" y="359.70" width="7.65" height="3.20" fill="#fff"/>
<g opacity="0.75">
<path d="M527.57 342.32V348.80M526.07 342.32H529.07M526.07 348.80H529.07" stroke="#555" stroke-width="0.6" fill="none"/>
</g>
<text x="527.17" y="340.40" font-size="11.0" font-weight="bold" text-anchor="middle" fill="#111">b</text>
<text x="523.40" y="419.80" font-size="11.5" font-weight="bold" text-anchor="middle" fill="#111">N1</text>
<rect x="307.5" y="215.5" width="233.5" height="190.5" fill="none" stroke="#363636" stroke-width="1.35"/>
<line x1="307.50" y1="229.50" x2="541.00" y2="229.50" stroke="#363636" stroke-width="1.35"/>
<line x1="384.40" y1="229.50" x2="384.40" y2="406.00" stroke="#555" stroke-width="1.3"/>
<line x1="464.20" y1="229.50" x2="464.20" y2="406.00" stroke="#555" stroke-width="1.3"/>
<text x="408.00" y="227.30" font-size="11.8" font-weight="bold" text-anchor="start" fill="#111" textLength="22.3" lengthAdjust="spacingAndGlyphs">2022</text>
<line x1="307.50" y1="243.60" x2="311.50" y2="243.60" stroke="#363636" stroke-width="1.1"/>
<text x="303.00" y="247.80" font-size="12" font-weight="bold" text-anchor="end" fill="#111">35</text>
<line x1="307.50" y1="280.20" x2="311.50" y2="280.20" stroke="#363636" stroke-width="1.1"/>
<text x="303.00" y="284.40" font-size="12" font-weight="bold" text-anchor="end" fill="#111">30</text>
<line x1="307.50" y1="316.50" x2="311.50" y2="316.50" stroke="#363636" stroke-width="1.1"/>
<text x="303.00" y="320.70" font-size="12" font-weight="bold" text-anchor="end" fill="#111">25</text>
<line x1="307.50" y1="352.50" x2="311.50" y2="352.50" stroke="#363636" stroke-width="1.1"/>
<text x="303.00" y="356.70" font-size="12" font-weight="bold" text-anchor="end" fill="#111">20</text>
<line x1="307.50" y1="370.20" x2="311.50" y2="370.20" stroke="#363636" stroke-width="1.1"/>
<text x="303.00" y="374.40" font-size="12" font-weight="bold" text-anchor="end" fill="#111">5</text>
<text x="303.00" y="410.20" font-size="12" font-weight="bold" text-anchor="end" fill="#111">0</text>
<polygon points="304.50,364.85 310.50,360.65 310.50,357.75 304.50,361.95" fill="#fff"/>
<line x1="304.50" y1="364.85" x2="310.50" y2="360.65" stroke="#222" stroke-width="1.25"/>
<line x1="304.50" y1="361.95" x2="310.50" y2="357.75" stroke="#222" stroke-width="1.25"/>
<polygon points="538.00,364.85 544.00,360.65 544.00,357.75 538.00,361.95" fill="#fff"/>
<line x1="538.00" y1="364.85" x2="544.00" y2="360.65" stroke="#222" stroke-width="1.25"/>
<line x1="538.00" y1="361.95" x2="544.00" y2="357.75" stroke="#222" stroke-width="1.25"/>
<rect x="509.50" y="249.00" width="9.00" height="7.50" fill="#48559a"/>
<text x="523.50" y="257.00" font-size="11.5" font-weight="normal" text-anchor="start" fill="#222">P2</text>
<rect x="509.50" y="263.00" width="9.00" height="7.50" fill="#439cad"/>
<text x="523.50" y="271.00" font-size="11.5" font-weight="normal" text-anchor="start" fill="#222">P1</text>
<text x="4.20" y="443.80" font-size="11.5" font-weight="bold" text-anchor="start" fill="#111">C</text>
<rect x="46.70" y="442.40" width="73.40" height="13.90" fill="#d4d4d4"/>
<rect x="122.50" y="442.40" width="77.30" height="13.90" fill="#d4d4d4"/>
<rect x="202.20" y="442.40" width="75.10" height="13.90" fill="#d4d4d4"/>
<text x="82.80" y="454.80" font-size="11.2" font-weight="normal" text-anchor="middle" fill="#222" textLength="30.5" lengthAdjust="spacingAndGlyphs">Whole</text>
<text x="158.50" y="454.80" font-size="11.2" font-weight="normal" text-anchor="middle" fill="#222" textLength="14.5" lengthAdjust="spacingAndGlyphs">SG</text>
<text x="236.50" y="454.80" font-size="11.2" font-weight="normal" text-anchor="middle" fill="#222" textLength="12" lengthAdjust="spacingAndGlyphs">IG</text>
<rect x="56.15" y="533.96" width="6.15" height="83.84" fill="#48559a" stroke="#3c4890" stroke-width="0.5"/>
<rect x="55.40" y="574.70" width="7.65" height="3.50" fill="#fff"/>
<g opacity="0.75">
<path d="M59.23 531.99V535.43M57.73 531.99H60.73M57.73 535.43H60.73" stroke="#555" stroke-width="0.6" fill="none"/>
</g>
<text x="59.23" y="530.59" font-size="11.0" font-weight="bold" text-anchor="middle" fill="#111">c</text>
<rect x="64.50" y="543.71" width="6.15" height="74.09" fill="#439cad" stroke="#358c9c" stroke-width="0.5"/>
<rect x="63.75" y="574.70" width="7.65" height="3.50" fill="#fff"/>
<g opacity="0.75">
<path d="M67.58 539.45V547.48M66.08 539.45H69.08M66.08 547.48H69.08" stroke="#555" stroke-width="0.6" fill="none"/>
</g>
<text x="67.58" y="538.05" font-size="11.0" font-weight="bold" text-anchor="middle" fill="#111">d</text>
<text x="63.40" y="631.60" font-size="11.5" font-weight="bold" text-anchor="middle" fill="#111">N3</text>
<rect x="76.75" y="508.50" width="6.15" height="109.30" fill="#48559a" stroke="#3c4890" stroke-width="0.5"/>
<rect x="76.00" y="574.70" width="7.65" height="3.50" fill="#fff"/>
<g opacity="0.75">
<path d="M79.83 503.66V512.84M78.33 503.66H81.33M78.33 512.84H81.33" stroke="#555" stroke-width="0.6" fill="none"/>
</g>
<text x="79.83" y="502.26" font-size="11.0" font-weight="bold" text-anchor="middle" fill="#111">a</text>
<rect x="85.10" y="522.72" width="6.15" height="95.08" fill="#439cad" stroke="#358c9c" stroke-width="0.5"/>
<rect x="84.35" y="574.70" width="7.65" height="3.50" fill="#fff"/>
<g opacity="0.75">
<path d="M88.17 517.89V527.06M86.67 517.89H89.67M86.67 527.06H89.67" stroke="#555" stroke-width="0.6" fill="none"/>
</g>
<text x="88.17" y="516.49" font-size="11.0" font-weight="bold" text-anchor="middle" fill="#111">b</text>
<text x="84.00" y="631.60" font-size="11.5" font-weight="bold" text-anchor="middle" fill="#111">N2</text>
<rect x="97.75" y="529.72" width="6.15" height="88.08" fill="#48559a" stroke="#3c4890" stroke-width="0.5"/>
<rect x="97.00" y="574.70" width="7.65" height="3.50" fill="#fff"/>
<g opacity="0.75">
<path d="M100.83 523.73V535.20M99.33 523.73H102.33M99.33 535.20H102.33" stroke="#555" stroke-width="0.6" fill="none"/>
</g>
<text x="100.83" y="522.33" font-size="11.0" font-weight="bold" text-anchor="middle" fill="#111">c</text>
<rect x="106.10" y="542.11" width="6.15" height="75.69" fill="#439cad" stroke="#358c9c" stroke-width="0.5"/>
<rect x="105.35" y="574.70" width="7.65" height="3.50" fill="#fff"/>
<g opacity="0.75">
<path d="M109.17 536.12V547.59M107.67 536.12H110.67M107.67 547.59H110.67" stroke="#555" stroke-width="0.6" fill="none"/>
</g>
<text x="109.17" y="534.72" font-size="11.0" font-weight="bold" text-anchor="middle" fill="#111">d</text>
<text x="105.00" y="631.60" font-size="11.5" font-weight="bold" text-anchor="middle" fill="#111">N1</text>
<rect x="134.05" y="593.32" width="6.15" height="24.48" fill="#48559a" stroke="#3c4890" stroke-width="0.5"/>
<g opacity="0.75">
<path d="M137.12 591.92V594.22M135.62 591.92H138.62M135.62 594.22H138.62" stroke="#555" stroke-width="0.6" fill="none"/>
</g>
<text x="135.93" y="589.60" font-size="11.0" font-weight="bold" text-anchor="middle" fill="#111">bc</text>
<rect x="142.40" y="595.51" width="6.15" height="22.29" fill="#439cad" stroke="#358c9c" stroke-width="0.5"/>
<g opacity="0.75">
<path d="M145.48 594.11V596.41M143.98 594.11H146.98M143.98 596.41H146.98" stroke="#555" stroke-width="0.6" fill="none"/>
</g>
<text x="145.78" y="591.50" font-size="11.0" font-weight="bold" text-anchor="middle" fill="#111">d</text>
<text x="141.30" y="631.60" font-size="11.5" font-weight="bold" text-anchor="middle" fill="#111">N3</text>
<rect x="155.05" y="590.22" width="6.15" height="27.58" fill="#48559a" stroke="#3c4890" stroke-width="0.5"/>
<g opacity="0.75">
<path d="M158.12 588.24V591.69M156.62 588.24H159.62M156.62 591.69H159.62" stroke="#555" stroke-width="0.6" fill="none"/>
</g>
<text x="158.12" y="586.84" font-size="11.0" font-weight="bold" text-anchor="middle" fill="#111">a</text>
<rect x="163.40" y="592.98" width="6.15" height="24.82" fill="#439cad" stroke="#358c9c" stroke-width="0.5"/>
<g opacity="0.75">
<path d="M166.48 591.00V594.45M164.98 591.00H167.98M164.98 594.45H167.98" stroke="#555" stroke-width="0.6" fill="none"/>
</g>
<text x="166.48" y="589.60" font-size="11.0" font-weight="bold" text-anchor="middle" fill="#111">b</text>
<text x="162.30" y="631.60" font-size="11.5" font-weight="bold" text-anchor="middle" fill="#111">N2</text>
<rect x="175.55" y="592.75" width="6.15" height="25.05" fill="#48559a" stroke="#3c4890" stroke-width="0.5"/>
<g opacity="0.75">
<path d="M178.62 591.35V593.65M177.12 591.35H180.12M177.12 593.65H180.12" stroke="#555" stroke-width="0.6" fill="none"/>
</g>
<text x="178.62" y="589.95" font-size="11.0" font-weight="bold" text-anchor="middle" fill="#111">b</text>
<rect x="183.90" y="595.16" width="6.15" height="22.63" fill="#439cad" stroke="#358c9c" stroke-width="0.5"/>
<g opacity="0.75">
<path d="M186.98 593.19V596.64M185.48 593.19H188.48M185.48 596.64H188.48" stroke="#555" stroke-width="0.6" fill="none"/>
</g>
<text x="188.88" y="591.79" font-size="11.0" font-weight="bold" text-anchor="middle" fill="#111">cd</text>
<text x="182.80" y="631.60" font-size="11.5" font-weight="bold" text-anchor="middle" fill="#111">N1</text>
<rect x="211.95" y="597.12" width="6.15" height="20.68" fill="#48559a" stroke="#3c4890" stroke-width="0.5"/>
<g opacity="0.75">
<path d="M215.02 595.14V598.60M213.52 595.14H216.52M213.52 598.60H216.52" stroke="#555" stroke-width="0.6" fill="none"/>
</g>
<text x="214.42" y="592.40" font-size="11.0" font-weight="bold" text-anchor="middle" fill="#111">bc</text>
<rect x="220.30" y="599.30" width="6.15" height="18.50" fill="#439cad" stroke="#358c9c" stroke-width="0.5"/>
<g opacity="0.75">
<path d="M223.38 595.60V602.50M221.88 595.60H224.88M221.88 602.50H224.88" stroke="#555" stroke-width="0.6" fill="none"/>
</g>
<text x="224.68" y="594.20" font-size="11.0" font-weight="bold" text-anchor="middle" fill="#111">d</text>
<text x="219.20" y="631.60" font-size="11.5" font-weight="bold" text-anchor="middle" fill="#111">N3</text>
<rect x="232.95" y="592.40" width="6.15" height="25.39" fill="#48559a" stroke="#3c4890" stroke-width="0.5"/>
<g opacity="0.75">
<path d="M236.02 588.70V595.61M234.52 588.70H237.52M234.52 595.61H237.52" stroke="#555" stroke-width="0.6" fill="none"/>
</g>
<text x="236.02" y="587.30" font-size="11.0" font-weight="bold" text-anchor="middle" fill="#111">a</text>
<rect x="241.30" y="595.28" width="6.15" height="22.52" fill="#439cad" stroke="#358c9c" stroke-width="0.5"/>
<g opacity="0.75">
<path d="M244.38 590.43V599.63M242.88 590.43H245.88M242.88 599.63H245.88" stroke="#555" stroke-width="0.6" fill="none"/>
</g>
<text x="244.38" y="589.03" font-size="11.0" font-weight="bold" text-anchor="middle" fill="#111">b</text>
<text x="240.20" y="631.60" font-size="11.5" font-weight="bold" text-anchor="middle" fill="#111">N2</text>
<rect x="253.55" y="595.28" width="6.15" height="22.52" fill="#48559a" stroke="#3c4890" stroke-width="0.5"/>
<g opacity="0.75">
<path d="M256.62 592.15V597.90M255.12 592.15H258.12M255.12 597.90H258.12" stroke="#555" stroke-width="0.6" fill="none"/>
</g>
<text x="256.62" y="590.00" font-size="11.0" font-weight="bold" text-anchor="middle" fill="#111">b</text>
<rect x="261.90" y="599.30" width="6.15" height="18.50" fill="#439cad" stroke="#358c9c" stroke-width="0.5"/>
<g opacity="0.75">
<path d="M264.98 595.60V602.50M263.48 595.60H266.48M263.48 602.50H266.48" stroke="#555" stroke-width="0.6" fill="none"/>
</g>
<text x="266.88" y="593.20" font-size="11.0" font-weight="bold" text-anchor="middle" fill="#111">cd</text>
<text x="260.80" y="631.60" font-size="11.5" font-weight="bold" text-anchor="middle" fill="#111">N1</text>
<rect x="45.5" y="427.5" width="233.0" height="190.29999999999995" fill="none" stroke="#363636" stroke-width="1.35"/>
<line x1="45.50" y1="441.50" x2="278.50" y2="441.50" stroke="#363636" stroke-width="1.35"/>
<line x1="121.30" y1="441.50" x2="121.30" y2="617.80" stroke="#555" stroke-width="1.3"/>
<line x1="201.00" y1="441.50" x2="201.00" y2="617.80" stroke="#555" stroke-width="1.3"/>
<text x="145.80" y="439.70" font-size="11.8" font-weight="bold" text-anchor="start" fill="#111" textLength="22.3" lengthAdjust="spacingAndGlyphs">2021</text>
<line x1="45.50" y1="470.20" x2="49.50" y2="470.20" stroke="#363636" stroke-width="1.1"/>
<text x="41.00" y="474.40" font-size="12" font-weight="bold" text-anchor="end" fill="#111">180</text>
<line x1="45.50" y1="504.60" x2="49.50" y2="504.60" stroke="#363636" stroke-width="1.1"/>
<text x="41.00" y="508.80" font-size="12" font-weight="bold" text-anchor="end" fill="#111">150</text>
<line x1="45.50" y1="539.00" x2="49.50" y2="539.00" stroke="#363636" stroke-width="1.1"/>
<text x="41.00" y="543.20" font-size="12" font-weight="bold" text-anchor="end" fill="#111">120</text>
<line x1="45.50" y1="573.40" x2="49.50" y2="573.40" stroke="#363636" stroke-width="1.1"/>
<text x="41.00" y="577.60" font-size="12" font-weight="bold" text-anchor="end" fill="#111">90</text>
<line x1="45.50" y1="583.30" x2="49.50" y2="583.30" stroke="#363636" stroke-width="1.1"/>
<text x="41.00" y="587.50" font-size="12" font-weight="bold" text-anchor="end" fill="#111">30</text>
<text x="41.00" y="622.00" font-size="12" font-weight="bold" text-anchor="end" fill="#111">0</text>
<polygon points="42.50,580.00 48.50,575.80 48.50,572.90 42.50,577.10" fill="#fff"/>
<line x1="42.50" y1="580.00" x2="48.50" y2="575.80" stroke="#222" stroke-width="1.25"/>
<line x1="42.50" y1="577.10" x2="48.50" y2="572.90" stroke="#222" stroke-width="1.25"/>
<polygon points="275.50,580.00 281.50,575.80 281.50,572.90 275.50,577.10" fill="#fff"/>
<line x1="275.50" y1="580.00" x2="281.50" y2="575.80" stroke="#222" stroke-width="1.25"/>
<line x1="275.50" y1="577.10" x2="281.50" y2="572.90" stroke="#222" stroke-width="1.25"/>
<text x="52.30" y="466.00" font-size="11" font-weight="normal" text-anchor="start" fill="#2a2a2a" textLength="48" lengthAdjust="spacingAndGlyphs" stroke="#2a2a2a" stroke-width="0.06">N:222.68**</text>
<text x="52.30" y="478.40" font-size="11" font-weight="normal" text-anchor="start" fill="#2a2a2a" textLength="47" lengthAdjust="spacingAndGlyphs" stroke="#2a2a2a" stroke-width="0.06">P:149.12**</text>
<text x="52.30" y="491.20" font-size="11" font-weight="normal" text-anchor="start" fill="#2a2a2a" textLength="51.5" lengthAdjust="spacingAndGlyphs" stroke="#2a2a2a" stroke-width="0.06">N×P: 1.32ns</text>
<text x="124.60" y="466.00" font-size="11" font-weight="normal" text-anchor="start" fill="#2a2a2a" textLength="43" lengthAdjust="spacingAndGlyphs" stroke="#2a2a2a" stroke-width="0.06">N:30.23**</text>
<text x="124.60" y="478.40" font-size="11" font-weight="normal" text-anchor="start" fill="#2a2a2a" textLength="42" lengthAdjust="spacingAndGlyphs" stroke="#2a2a2a" stroke-width="0.06">P:40.58**</text>
<text x="124.60" y="491.20" font-size="11" font-weight="normal" text-anchor="start" fill="#2a2a2a" textLength="51.5" lengthAdjust="spacingAndGlyphs" stroke="#2a2a2a" stroke-width="0.06">N×P: 1.53ns</text>
<text x="204.80" y="466.00" font-size="11" font-weight="normal" text-anchor="start" fill="#2a2a2a" textLength="43.5" lengthAdjust="spacingAndGlyphs" stroke="#2a2a2a" stroke-width="0.06">N:27.27**</text>
<text x="204.80" y="478.40" font-size="11" font-weight="normal" text-anchor="start" fill="#2a2a2a" textLength="41.5" lengthAdjust="spacingAndGlyphs" stroke="#2a2a2a" stroke-width="0.06">P:44.25**</text>
<text x="204.80" y="491.20" font-size="11" font-weight="normal" text-anchor="start" fill="#2a2a2a" textLength="51.5" lengthAdjust="spacingAndGlyphs" stroke="#2a2a2a" stroke-width="0.06">N×P: 2.83ns</text>
<rect x="309.00" y="442.90" width="74.20" height="13.90" fill="#d4d4d4"/>
<rect x="385.60" y="442.90" width="77.20" height="13.90" fill="#d4d4d4"/>
<rect x="465.20" y="442.90" width="75.00" height="13.90" fill="#d4d4d4"/>
<text x="350.10" y="454.40" font-size="11.2" font-weight="normal" text-anchor="middle" fill="#222" textLength="30.5" lengthAdjust="spacingAndGlyphs">Whole</text>
<text x="421.20" y="454.40" font-size="11.2" font-weight="normal" text-anchor="middle" fill="#222" textLength="14.5" lengthAdjust="spacingAndGlyphs">SG</text>
<text x="499.50" y="454.40" font-size="11.2" font-weight="normal" text-anchor="middle" fill="#222" textLength="12" lengthAdjust="spacingAndGlyphs">IG</text>
<rect x="318.75" y="535.93" width="6.15" height="81.87" fill="#48559a" stroke="#3c4890" stroke-width="0.5"/>
<rect x="318.00" y="575.70" width="7.65" height="3.20" fill="#fff"/>
<g opacity="0.75">
<path d="M321.82 530.47V540.88M320.32 530.47H323.32M320.32 540.88H323.32" stroke="#555" stroke-width="0.6" fill="none"/>
</g>
<text x="321.82" y="526.00" font-size="11.0" font-weight="bold" text-anchor="middle" fill="#111">d</text>
<rect x="327.10" y="549.35" width="6.15" height="68.45" fill="#439cad" stroke="#358c9c" stroke-width="0.5"/>
<rect x="326.35" y="575.70" width="7.65" height="3.20" fill="#fff"/>
<g opacity="0.75">
<path d="M330.18 545.05V553.15M328.68 545.05H331.68M328.68 553.15H331.68" stroke="#555" stroke-width="0.6" fill="none"/>
</g>
<text x="330.18" y="542.30" font-size="11.0" font-weight="bold" text-anchor="middle" fill="#111">e</text>
<text x="326.00" y="631.60" font-size="11.5" font-weight="bold" text-anchor="middle" fill="#111">N3</text>
<rect x="339.55" y="502.03" width="6.15" height="115.77" fill="#48559a" stroke="#3c4890" stroke-width="0.5"/>
<rect x="338.80" y="575.70" width="7.65" height="3.20" fill="#fff"/>
<g opacity="0.75">
<path d="M342.62 497.73V505.83M341.12 497.73H344.12M341.12 505.83H344.12" stroke="#555" stroke-width="0.6" fill="none"/>
</g>
<text x="342.62" y="495.60" font-size="11.0" font-weight="bold" text-anchor="middle" fill="#111">a</text>
<rect x="347.90" y="517.99" width="6.15" height="99.81" fill="#439cad" stroke="#358c9c" stroke-width="0.5"/>
<rect x="347.15" y="575.70" width="7.65" height="3.20" fill="#fff"/>
<g opacity="0.75">
<path d="M350.98 514.85V520.64M349.48 514.85H352.48M349.48 520.64H352.48" stroke="#555" stroke-width="0.6" fill="none"/>
</g>
<text x="350.98" y="511.60" font-size="11.0" font-weight="bold" text-anchor="middle" fill="#111">b</text>
<text x="346.80" y="631.60" font-size="11.5" font-weight="bold" text-anchor="middle" fill="#111">N2</text>
<rect x="360.35" y="526.90" width="6.15" height="90.90" fill="#48559a" stroke="#3c4890" stroke-width="0.5"/>
<rect x="359.60" y="575.70" width="7.65" height="3.20" fill="#fff"/>
<g opacity="0.75">
<path d="M363.43 520.87V532.44M361.93 520.87H364.93M361.93 532.44H364.93" stroke="#555" stroke-width="0.6" fill="none"/>
</g>
<text x="363.43" y="516.40" font-size="11.0" font-weight="bold" text-anchor="middle" fill="#111">c</text>
<rect x="368.70" y="546.69" width="6.15" height="71.11" fill="#439cad" stroke="#358c9c" stroke-width="0.5"/>
<rect x="367.95" y="575.70" width="7.65" height="3.20" fill="#fff"/>
<g opacity="0.75">
<path d="M371.78 542.97V549.91M370.28 542.97H373.28M370.28 549.91H373.28" stroke="#555" stroke-width="0.6" fill="none"/>
</g>
<text x="371.78" y="538.90" font-size="11.0" font-weight="bold" text-anchor="middle" fill="#111">e</text>
<text x="367.60" y="631.60" font-size="11.5" font-weight="bold" text-anchor="middle" fill="#111">N1</text>
<rect x="396.65" y="600.14" width="6.15" height="17.66" fill="#48559a" stroke="#3c4890" stroke-width="0.5"/>
<g opacity="0.75">
<path d="M399.72 599.03V600.74M398.22 599.03H401.22M398.22 600.74H401.22" stroke="#555" stroke-width="0.6" fill="none"/>
</g>
<text x="398.22" y="596.00" font-size="11.0" font-weight="bold" text-anchor="middle" fill="#111">bc</text>
<rect x="405.00" y="601.33" width="6.15" height="16.47" fill="#439cad" stroke="#358c9c" stroke-width="0.5"/>
<g opacity="0.75">
<path d="M408.07 600.23V601.93M406.57 600.23H409.57M406.57 601.93H409.57" stroke="#555" stroke-width="0.6" fill="none"/>
</g>
<text x="407.88" y="596.00" font-size="11.0" font-weight="bold" text-anchor="middle" fill="#111">c</text>
<text x="403.90" y="631.60" font-size="11.5" font-weight="bold" text-anchor="middle" fill="#111">N3</text>
<rect x="417.35" y="597.75" width="6.15" height="20.05" fill="#48559a" stroke="#3c4890" stroke-width="0.5"/>
<g opacity="0.75">
<path d="M420.43 594.94V600.06M418.93 594.94H421.93M418.93 600.06H421.93" stroke="#555" stroke-width="0.6" fill="none"/>
</g>
<text x="420.43" y="593.54" font-size="11.0" font-weight="bold" text-anchor="middle" fill="#111">a</text>
<rect x="425.70" y="599.45" width="6.15" height="18.35" fill="#439cad" stroke="#358c9c" stroke-width="0.5"/>
<g opacity="0.75">
<path d="M428.78 598.35V600.06M427.28 598.35H430.28M427.28 600.06H430.28" stroke="#555" stroke-width="0.6" fill="none"/>
</g>
<text x="428.78" y="596.95" font-size="11.0" font-weight="bold" text-anchor="middle" fill="#111">b</text>
<text x="424.60" y="631.60" font-size="11.5" font-weight="bold" text-anchor="middle" fill="#111">N2</text>
<rect x="438.25" y="599.45" width="6.15" height="18.35" fill="#48559a" stroke="#3c4890" stroke-width="0.5"/>
<g opacity="0.75">
<path d="M441.32 598.35V600.06M439.82 598.35H442.82M439.82 600.06H442.82" stroke="#555" stroke-width="0.6" fill="none"/>
</g>
<text x="441.68" y="596.95" font-size="11.0" font-weight="bold" text-anchor="middle" fill="#111">b</text>
<rect x="446.60" y="600.14" width="6.15" height="17.66" fill="#439cad" stroke="#358c9c" stroke-width="0.5"/>
<g opacity="0.75">
<path d="M449.68 599.03V600.74M448.18 599.03H451.18M448.18 600.74H451.18" stroke="#555" stroke-width="0.6" fill="none"/>
</g>
<text x="450.98" y="596.00" font-size="11.0" font-weight="bold" text-anchor="middle" fill="#111">bc</text>
<text x="445.50" y="631.60" font-size="11.5" font-weight="bold" text-anchor="middle" fill="#111">N1</text>
<rect x="474.55" y="598.35" width="6.15" height="19.45" fill="#48559a" stroke="#3c4890" stroke-width="0.5"/>
<g opacity="0.75">
<path d="M477.62 595.96V600.23M476.12 595.96H479.12M476.12 600.23H479.12" stroke="#555" stroke-width="0.6" fill="none"/>
</g>
<text x="477.77" y="592.00" font-size="11.0" font-weight="bold" text-anchor="middle" fill="#111">bc</text>
<rect x="482.90" y="600.99" width="6.15" height="16.81" fill="#439cad" stroke="#358c9c" stroke-width="0.5"/>
<g opacity="0.75">
<path d="M485.98 598.18V603.30M484.48 598.18H487.48M484.48 603.30H487.48" stroke="#555" stroke-width="0.6" fill="none"/>
</g>
<text x="486.38" y="595.90" font-size="11.0" font-weight="bold" text-anchor="middle" fill="#111">c</text>
<text x="481.80" y="631.60" font-size="11.5" font-weight="bold" text-anchor="middle" fill="#111">N3</text>
<rect x="495.25" y="593.91" width="6.15" height="23.89" fill="#48559a" stroke="#3c4890" stroke-width="0.5"/>
<g opacity="0.75">
<path d="M498.32 590.67V596.65M496.82 590.67H499.82M496.82 596.65H499.82" stroke="#555" stroke-width="0.6" fill="none"/>
</g>
<text x="498.32" y="586.20" font-size="11.0" font-weight="bold" text-anchor="middle" fill="#111">a</text>
<rect x="503.60" y="597.24" width="6.15" height="20.56" fill="#439cad" stroke="#358c9c" stroke-width="0.5"/>
<g opacity="0.75">
<path d="M506.68 594.00V599.97M505.18 594.00H508.18M505.18 599.97H508.18" stroke="#555" stroke-width="0.6" fill="none"/>
</g>
<text x="507.48" y="591.00" font-size="11.0" font-weight="bold" text-anchor="middle" fill="#111">b</text>
<text x="502.50" y="631.60" font-size="11.5" font-weight="bold" text-anchor="middle" fill="#111">N2</text>
<rect x="516.15" y="597.24" width="6.15" height="20.56" fill="#48559a" stroke="#3c4890" stroke-width="0.5"/>
<g opacity="0.75">
<path d="M519.23 594.85V599.12M517.73 594.85H520.73M517.73 599.12H520.73" stroke="#555" stroke-width="0.6" fill="none"/>
</g>
<text x="519.98" y="591.00" font-size="11.0" font-weight="bold" text-anchor="middle" fill="#111">b</text>
<rect x="524.50" y="604.15" width="6.15" height="13.65" fill="#439cad" stroke="#358c9c" stroke-width="0.5"/>
<g opacity="0.75">
<path d="M527.57 603.04V604.75M526.07 603.04H529.07M526.07 604.75H529.07" stroke="#555" stroke-width="0.6" fill="none"/>
</g>
<text x="529.97" y="602.70" font-size="11.0" font-weight="bold" text-anchor="middle" fill="#111">bc</text>
<text x="523.40" y="631.60" font-size="11.5" font-weight="bold" text-anchor="middle" fill="#111">N1</text>
<rect x="307.8" y="427.5" width="233.59999999999997" height="190.29999999999995" fill="none" stroke="#363636" stroke-width="1.35"/>
<line x1="307.80" y1="442.00" x2="541.40" y2="442.00" stroke="#363636" stroke-width="1.35"/>
<line x1="384.40" y1="442.00" x2="384.40" y2="617.80" stroke="#555" stroke-width="1.3"/>
<line x1="464.00" y1="442.00" x2="464.00" y2="617.80" stroke="#555" stroke-width="1.3"/>
<text x="408.00" y="439.60" font-size="11.8" font-weight="bold" text-anchor="start" fill="#111" textLength="22.3" lengthAdjust="spacingAndGlyphs">2022</text>
<line x1="307.80" y1="470.30" x2="311.80" y2="470.30" stroke="#363636" stroke-width="1.1"/>
<text x="303.30" y="474.50" font-size="12" font-weight="bold" text-anchor="end" fill="#111">180</text>
<line x1="307.80" y1="505.50" x2="311.80" y2="505.50" stroke="#363636" stroke-width="1.1"/>
<text x="303.30" y="509.70" font-size="12" font-weight="bold" text-anchor="end" fill="#111">150</text>
<line x1="307.80" y1="540.20" x2="311.80" y2="540.20" stroke="#363636" stroke-width="1.1"/>
<text x="303.30" y="544.40" font-size="12" font-weight="bold" text-anchor="end" fill="#111">120</text>
<line x1="307.80" y1="574.90" x2="311.80" y2="574.90" stroke="#363636" stroke-width="1.1"/>
<text x="303.30" y="579.10" font-size="12" font-weight="bold" text-anchor="end" fill="#111">90</text>
<line x1="307.80" y1="592.20" x2="311.80" y2="592.20" stroke="#363636" stroke-width="1.1"/>
<text x="303.30" y="596.40" font-size="12" font-weight="bold" text-anchor="end" fill="#111">30</text>
<text x="303.30" y="622.00" font-size="12" font-weight="bold" text-anchor="end" fill="#111">0</text>
<polygon points="304.80,580.85 310.80,576.65 310.80,573.75 304.80,577.95" fill="#fff"/>
<line x1="304.80" y1="580.85" x2="310.80" y2="576.65" stroke="#222" stroke-width="1.25"/>
<line x1="304.80" y1="577.95" x2="310.80" y2="573.75" stroke="#222" stroke-width="1.25"/>
<polygon points="538.40,580.85 544.40,576.65 544.40,573.75 538.40,577.95" fill="#fff"/>
<line x1="538.40" y1="580.85" x2="544.40" y2="576.65" stroke="#222" stroke-width="1.25"/>
<line x1="538.40" y1="577.95" x2="544.40" y2="573.75" stroke="#222" stroke-width="1.25"/>
<rect x="509.50" y="463.00" width="9.00" height="7.50" fill="#48559a"/>
<text x="523.50" y="471.00" font-size="11.5" font-weight="normal" text-anchor="start" fill="#222">P2</text>
<rect x="509.50" y="477.00" width="9.00" height="7.50" fill="#439cad"/>
<text x="523.50" y="485.00" font-size="11.5" font-weight="normal" text-anchor="start" fill="#222">P1</text>
<text transform="translate(18.8,316) rotate(-90)" font-size="11" font-weight="normal" stroke="#111" stroke-width="0.35" text-anchor="middle" fill="#111" textLength="116" lengthAdjust="spacingAndGlyphs">1000-Grain weight(g)</text>
<text transform="translate(15.2,519.3) rotate(-90)" font-size="11" font-weight="normal" stroke="#111" stroke-width="0.35" text-anchor="middle" fill="#111" textLength="110.5" lengthAdjust="spacingAndGlyphs">Spikelets per panicle</text>
</svg>
</div></body></html>
